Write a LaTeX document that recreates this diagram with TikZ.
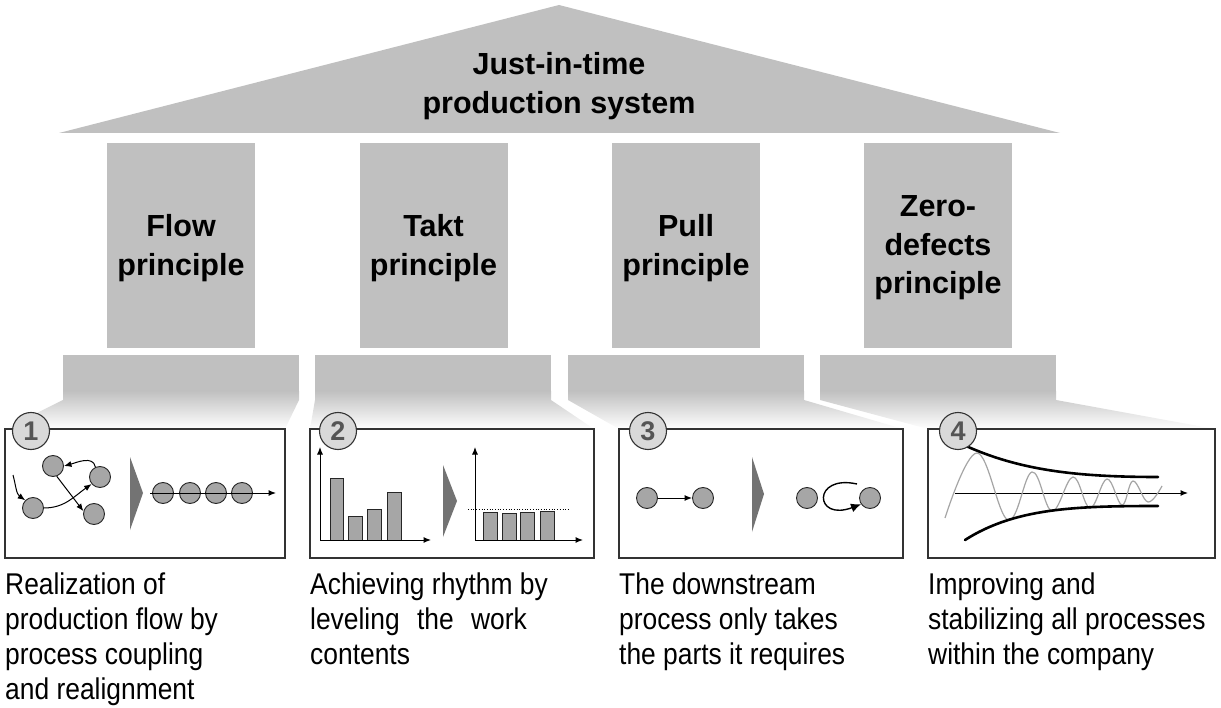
\documentclass[tikz,border=0pt]{standalone}
\usepackage{fontspec}
\setmainfont{Liberation Sans}
\newfontfamily\narrowfont[FakeStretch=0.88]{Liberation Sans}
\usetikzlibrary{arrows.meta,shadings}
\definecolor{roofgray}{RGB}{192,192,192}
\definecolor{dotgray}{RGB}{166,166,166}
\definecolor{numgray}{RGB}{85,85,85}
\definecolor{numfill}{RGB}{217,217,217}
\definecolor{chevgray}{RGB}{115,115,115}
\definecolor{sinegray}{RGB}{165,165,165}
\tikzset{
  pillar/.style={fill=roofgray, draw=none},
  dot/.style={circle, draw=black!85, fill=dotgray, line width=0.9pt, minimum size=21pt, inner sep=0pt},
  arr/.style={-{Latex[length=7.5pt,width=6pt]}, line width=1pt},
  bigarr/.style={-{Latex[length=10pt,width=9pt]}, line width=1.4pt},
  panel/.style={draw=black!80, line width=1.1pt, fill=white},
  numcirc/.style={circle, draw=black!80, fill=numfill, line width=1.1pt, minimum size=37pt, inner sep=0pt, font=\fontsize{27}{27}\selectfont\bfseries, text=numgray},
  bar/.style={draw=black!85, fill=dotgray, line width=0.9pt},
  chev/.style={fill=chevgray, draw=none},
  heading/.style={font=\fontsize{30.5}{38.5}\selectfont\bfseries, align=center, inner sep=0pt},
  desc/.style={font=\narrowfont\fontsize{30}{34.7}\selectfont, align=left, anchor=north west, inner sep=0pt},
  envelope/.style={line width=2.6pt, line cap=round},
}
\begin{document}
\begin{tikzpicture}[x=1pt,y=-1pt]
\useasboundingbox (0,0) rectangle (1221,708);
% roof
\fill[roofgray] (59,133) -- (559,5) -- (1060,133) -- cycle;
% columns
\foreach \cx in {181,433.5,686,938}{
  \fill[pillar] ({\cx-74},143) rectangle ({\cx+74},348);
}
% plinths with fading lower part
\foreach \L/\R/\bL/\bR in {63/299/5/285, 315/551/310/594, 568/804/619/903, 820/1056/928/1215}{
  \fill[pillar] (\L,355) rectangle (\R,392);
  \shade[top color=roofgray, bottom color=white] (\L,391) -- (\R,391) -- (\R,400) -- (\bR,429) -- (\bL,429) -- (\L,400) -- cycle;
}
% headings
\node[heading] (title) at (559,86) {Just-in-time\\production system};
\node[heading] (flow) at (181,248) {Flow\\principle};
\node[heading] (takt) at (433.5,248) {Takt\\principle};
\node[heading] (pull) at (686,248) {Pull\\principle};
\node[heading] (zero) at (938,248) {Zero-\\defects\\principle};
% panels
\draw[panel] (5,429) rectangle (285,558);
\draw[panel] (310,429) rectangle (594,558);
\draw[panel] (619,429) rectangle (903,558);
\draw[panel] (928,429) rectangle (1215,558);

% ---- panel 1 ----
\node[dot] (A) at (53,466) {};
\node[dot] (B) at (100,477) {};
\node[dot] (C) at (33,508) {};
\node[dot] (D) at (94,514) {};
\coordinate (s1) at (13,475);
\draw[arr] (s1) to[out=-75,in=145] (C.135);
\draw[arr] (B.115) to[out=100,in=15] (A.east);
\draw[arr] (A.-70) -- (D.165);
\draw[arr] (C.east) to[out=0,in=215] (B.220);
\fill[chev] (130,457) -- (143,493) -- (130,530) -- cycle;
\node[dot] (E1) at (163,493) {};
\node[dot] (E2) at (190,493) {};
\node[dot] (E3) at (216,493) {};
\node[dot] (E4) at (242,493) {};
\coordinate (c1s) at (150,493);
\coordinate (c1e) at (276,493);
\draw[arr] (c1s) -- (c1e);

% ---- panel 2 ----
\coordinate (o2a) at (320,540);
\coordinate (y2a) at (320,447);
\coordinate (x2a) at (431,540);
\draw[bar] (330,540) rectangle (343,478);
\draw[bar] (348,540) rectangle (362,516);
\draw[bar] (367,540) rectangle (381,509);
\draw[bar] (387,540) rectangle (401,492);
\draw[arr] (o2a) -- (y2a);
\draw[arr] (o2a) -- (x2a);
\fill[chev] (443,465) -- (457,501) -- (443,537) -- cycle;
\coordinate (o2b) at (475,540);
\coordinate (y2b) at (475,447);
\coordinate (x2b) at (583,540);
\coordinate (d2s) at (468,509);
\coordinate (d2e) at (570,509);
\draw[line width=0.7pt, dotted] (d2s) -- (d2e);
\draw[bar] (483,540) rectangle (497,512);
\draw[bar] (502,540) rectangle (516,513);
\draw[bar] (520,540) rectangle (534,512);
\draw[bar] (540,540) rectangle (554,511);
\draw[arr] (o2b) -- (y2b);
\draw[arr] (o2b) -- (x2b);

% ---- panel 3 ----
\node[dot] (P1) at (647,498) {};
\node[dot] (P2) at (703,498) {};
\draw[arr] (P1) -- (P2);
\fill[chev] (752,457) -- (764,494) -- (752,532) -- cycle;
\node[dot] (Q1) at (807,498) {};
\node[dot] (Q2) at (870,498) {};
\coordinate (qs) at (857,484);
\draw[bigarr] (qs) .. controls (812,474) and (814,522) .. (Q2.215);

% ---- panel 4 ----
\coordinate (a4s) at (955,493);
\coordinate (a4e) at (1188,493);
\draw[arr] (a4s) -- (a4e);
\draw[sinegray, line width=1.2pt] plot[smooth, tension=0.65] coordinates {
  (945,518) (977,453) (1008,520) (1032,472) (1052,511) (1073,477) (1090,508)
  (1107,479) (1122,505) (1133,481) (1148,502) (1162,486)};
\draw[envelope] (966,446) .. controls (1020,470) and (1075,477) .. (1158,477);
\draw[envelope] (965,540) .. controls (1015,508) and (1075,506) .. (1158,506);

% number circles
\node[numcirc] (n1) at (31,431) {1};
\node[numcirc] (n2) at (338,431) {2};
\node[numcirc] (n3) at (648,431) {3};
\node[numcirc] (n4) at (958,431) {4};

% descriptions
\node[desc] (t1) at (5,573) {Realization of\\production flow by\\process coupling\\and realignment};
\node[desc] (t2) at (310,573) {Achieving rhythm by\\leveling\hspace{10pt} the\hspace{10pt} work\\contents};
\node[desc] (t3) at (619,573) {The downstream\\process only takes\\the parts it requires};
\node[desc] (t4) at (928,573) {Improving and\\stabilizing all processes\\within the company};
\end{tikzpicture}
\end{document}
